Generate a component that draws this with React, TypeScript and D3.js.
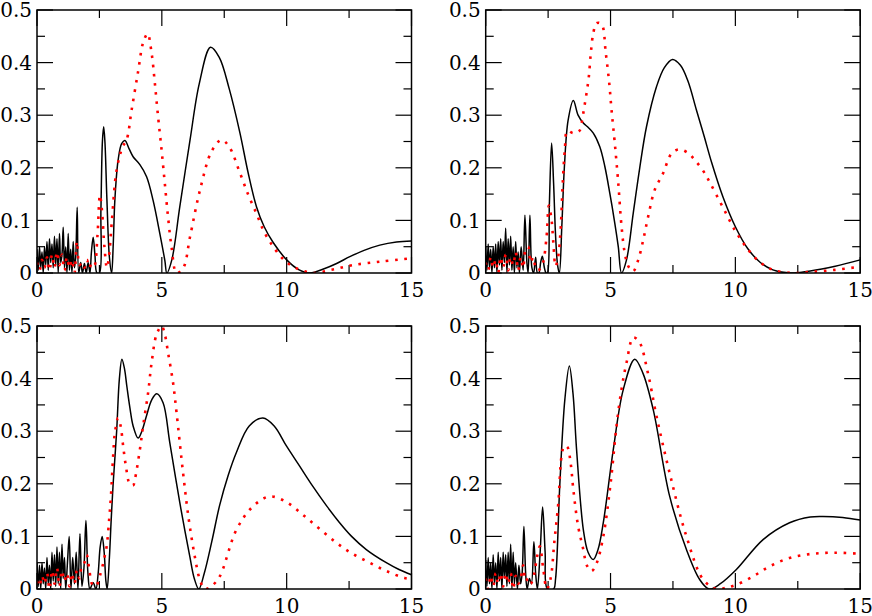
import * as d3 from "d3"

type Pt = [number, number]

// tick values shared by every panel
const xMajor = [0, 5, 10, 15]
const xMinor = [2.5, 7.5, 12.5]
const yMajor = [0, 0.1, 0.2, 0.3, 0.4, 0.5]
const yMinor = [0.05, 0.15, 0.25, 0.35, 0.45]

// top-left panel
const tlBlack: Pt[] = [
  [0, 0.045], [0.05, 0.005], [0.1, 0.05], [0.15, 0.01], [0.2, 0.04], [0.25, 0], [0.3, 0.05], [0.35, 0.015],
  [0.4, 0.06], [0.45, 0.005], [0.5, 0.065], [0.55, 0.02], [0.6, 0.055], [0.65, 0.01], [0.7, 0.07], [0.75, 0.015],
  [0.8, 0.065], [0.85, 0], [0.9, 0.075], [0.95, 0.02], [1.0, 0.035], [1.05, 0.087], [1.1, 0.01], [1.15, 0.05],
  [1.2, 0], [1.25, 0.075], [1.3, 0.005], [1.35, 0.045], [1.4, 0], [1.45, 0.06], [1.5, 0.01], [1.55, 0.03],
  [1.61, 0.125], [1.67, 0], [1.75, 0.02], [1.82, 0], [1.9, 0.018], [1.97, 0], [2.05, 0.02], [2.12, 0],
  [2.18, 0.04], [2.25, 0.068], [2.32, 0.035], [2.4, 0], [2.5, 0], [2.56, 0.12], [2.62, 0.25], [2.67, 0.278],
  [2.72, 0.25], [2.8, 0.14], [2.9, 0.03], [2.99, 0], [3.05, 0.05], [3.12, 0.14], [3.25, 0.215], [3.39, 0.246],
  [3.52, 0.252], [3.7, 0.235], [3.85, 0.221], [4.12, 0.206], [4.39, 0.183], [4.65, 0.138], [4.92, 0.075],
  [5.12, 0.024], [5.2, 0], [5.4, 0.025], [5.72, 0.126], [6.13, 0.253], [6.5, 0.36], [6.95, 0.429], [7.3, 0.41],
  [7.7, 0.35], [8.13, 0.266], [8.45, 0.192], [8.79, 0.126], [9.1, 0.088], [9.46, 0.058], [10.0, 0.025],
  [10.5, 0.006], [10.93, 0], [11.5, 0.008], [12.0, 0.018], [12.53, 0.031], [13.1, 0.043], [13.73, 0.053],
  [14.4, 0.059], [15, 0.061],
]
const tlRed: Pt[] = [
  [0, 0.02], [0.1, 0.005], [0.2, 0.025], [0.3, 0.01], [0.4, 0.03], [0.5, 0.005], [0.6, 0.035], [0.7, 0.01],
  [0.8, 0.04], [0.9, 0.015], [1.0, 0.035], [1.1, 0.005], [1.2, 0.03], [1.3, 0.01], [1.4, 0.025], [1.5, 0],
  [1.6, 0.06], [1.7, 0.015], [1.8, 0.02], [1.9, 0.01], [2.0, 0.025], [2.1, 0.01], [2.2, 0.02], [2.3, 0.015],
  [2.42, 0.07], [2.52, 0.148], [2.6, 0.12], [2.7, 0.05], [2.8, 0.01], [2.88, 0.03], [3.0, 0.1], [3.19, 0.196],
  [3.43, 0.24], [3.59, 0.253], [3.79, 0.31], [4.05, 0.383], [4.25, 0.438], [4.43, 0.455], [4.59, 0.418],
  [4.72, 0.361], [4.85, 0.297], [4.99, 0.234], [5.12, 0.17], [5.25, 0.106], [5.39, 0.049], [5.59, 0],
  [5.86, 0.01], [6.13, 0.069], [6.53, 0.158], [7.0, 0.232], [7.39, 0.253], [7.7, 0.24], [8.13, 0.19],
  [8.45, 0.15], [8.79, 0.113], [9.1, 0.078], [9.46, 0.05], [9.85, 0.027], [10.26, 0.012], [11.05, 0],
  [11.8, 0.006], [12.65, 0.015], [13.8, 0.022], [15, 0.028],
]

// top-right panel
const trBlack: Pt[] = [
  [0, 0.05], [0.05, 0.005], [0.1, 0.055], [0.15, 0.01], [0.2, 0.045], [0.25, 0], [0.3, 0.05], [0.35, 0.01],
  [0.4, 0.055], [0.45, 0], [0.5, 0.06], [0.55, 0.015], [0.6, 0.065], [0.65, 0.005], [0.7, 0.06], [0.75, 0.02],
  [0.8, 0.085], [0.85, 0], [0.9, 0.065], [0.95, 0.015], [1.0, 0.07], [1.05, 0.005], [1.1, 0.05], [1.15, 0],
  [1.2, 0.06], [1.25, 0.01], [1.3, 0.04], [1.35, 0], [1.42, 0.05], [1.5, 0.005], [1.57, 0.11], [1.65, 0.02],
  [1.7, 0], [1.77, 0.11], [1.85, 0.01], [1.92, 0], [2.0, 0.03], [2.07, 0], [2.13, 0], [2.2, 0.02], [2.27, 0.032],
  [2.35, 0.01], [2.42, 0], [2.47, 0], [2.55, 0.13], [2.64, 0.247], [2.72, 0.17], [2.8, 0.07], [2.88, 0.015],
  [2.95, 0], [3.05, 0.09], [3.15, 0.2], [3.3, 0.29], [3.51, 0.328], [3.7, 0.3], [3.91, 0.285], [4.1, 0.277],
  [4.31, 0.266], [4.57, 0.24], [4.77, 0.203], [4.97, 0.152], [5.17, 0.095], [5.31, 0.05], [5.44, 0],
  [5.64, 0.025], [5.91, 0.114], [6.17, 0.2], [6.44, 0.278], [6.84, 0.354], [7.15, 0.39], [7.48, 0.406],
  [7.8, 0.395], [8.1, 0.365], [8.44, 0.31], [8.75, 0.26], [9.05, 0.21], [9.5, 0.145], [10.0, 0.088],
  [10.5, 0.046], [11.0, 0.02], [11.5, 0.006], [12.2, 0], [13.0, 0.004], [14.0, 0.013], [15, 0.025],
]
const trRed: Pt[] = [
  [0, 0.02], [0.1, 0.005], [0.2, 0.03], [0.3, 0.01], [0.4, 0.025], [0.5, 0], [0.6, 0.03], [0.7, 0.01],
  [0.8, 0.035], [0.9, 0.005], [1.0, 0.03], [1.1, 0.015], [1.2, 0.04], [1.3, 0.005], [1.4, 0.03], [1.5, 0.01],
  [1.6, 0.045], [1.7, 0.05], [1.8, 0.02], [1.9, 0.03], [2.0, 0.01], [2.1, 0.005], [2.2, 0.01], [2.3, 0.02],
  [2.44, 0.07], [2.53, 0.128], [2.64, 0.1], [2.71, 0.057], [2.8, 0.013], [2.9, 0.03], [3.0, 0.082],
  [3.08, 0.165], [3.17, 0.234], [3.27, 0.27], [3.51, 0.266], [3.75, 0.27], [3.84, 0.285], [3.93, 0.31],
  [4.04, 0.342], [4.13, 0.373], [4.21, 0.418], [4.31, 0.456], [4.44, 0.475], [4.64, 0.473], [4.81, 0.418],
  [4.95, 0.36], [5.04, 0.31], [5.17, 0.247], [5.31, 0.171], [5.44, 0.089], [5.57, 0.038], [5.71, 0.013],
  [5.9, 0.003], [6.11, 0.025], [6.31, 0.063], [6.51, 0.108], [6.77, 0.158], [7.11, 0.19], [7.44, 0.227],
  [7.75, 0.235], [8.11, 0.228], [8.37, 0.215], [8.7, 0.195], [9.0, 0.17], [9.5, 0.125], [10.0, 0.08],
  [10.5, 0.045], [11.0, 0.02], [11.5, 0.006], [12.3, 0], [13.0, 0.002], [14.0, 0.006], [15, 0.012],
]

// bottom-left panel
const blBlack: Pt[] = [
  [0, 0.05], [0.05, 0.005], [0.1, 0.045], [0.15, 0], [0.2, 0.05], [0.25, 0.01], [0.3, 0.04], [0.35, 0],
  [0.4, 0.06], [0.45, 0.01], [0.5, 0.045], [0.55, 0], [0.6, 0.07], [0.65, 0.015], [0.7, 0.065], [0.75, 0.005],
  [0.8, 0.08], [0.85, 0.01], [0.9, 0.07], [0.95, 0], [1.0, 0.085], [1.05, 0.02], [1.1, 0.06], [1.15, 0],
  [1.22, 0.05], [1.29, 0.1], [1.36, 0], [1.43, 0.06], [1.5, 0.01], [1.57, 0.07], [1.64, 0], [1.72, 0.105],
  [1.8, 0.005], [1.88, 0.04], [1.96, 0.13], [2.04, 0.03], [2.12, 0], [2.25, 0.012], [2.36, 0], [2.45, 0.03],
  [2.53, 0.08], [2.61, 0.1], [2.69, 0.07], [2.76, 0.015], [2.81, 0], [2.9, 0.06], [2.97, 0.13], [3.05, 0.2],
  [3.19, 0.3], [3.3, 0.4], [3.4, 0.437], [3.5, 0.42], [3.6, 0.385], [3.72, 0.345], [3.85, 0.31], [4.05, 0.287],
  [4.2, 0.3], [4.39, 0.33], [4.6, 0.36], [4.8, 0.371], [5.05, 0.354], [5.32, 0.278], [5.72, 0.164],
  [6.12, 0.062], [6.3, 0.02], [6.48, 0], [6.7, 0.03], [7.0, 0.09], [7.32, 0.16], [7.65, 0.215], [7.99, 0.26],
  [8.5, 0.31], [9.05, 0.325], [9.5, 0.31], [9.99, 0.272], [10.5, 0.235], [11.05, 0.195], [11.6, 0.158],
  [12.12, 0.126], [12.6, 0.1], [13.19, 0.075], [13.99, 0.05], [14.5, 0.037], [15, 0.027],
]
const blRed: Pt[] = [
  [0, 0.015], [0.1, 0.005], [0.2, 0.025], [0.3, 0.01], [0.4, 0.03], [0.5, 0], [0.6, 0.035], [0.7, 0.01],
  [0.8, 0.04], [0.9, 0.005], [1.0, 0.035], [1.1, 0.015], [1.2, 0.03], [1.3, 0.005], [1.4, 0.03], [1.5, 0.01],
  [1.6, 0.035], [1.7, 0.02], [1.8, 0.045], [1.9, 0.05], [1.99, 0.065], [2.1, 0.035], [2.2, 0.01], [2.35, 0.005],
  [2.55, 0.03], [2.7, 0.06], [2.79, 0.081], [2.89, 0.132], [2.96, 0.176], [3.05, 0.253], [3.12, 0.297],
  [3.25, 0.325], [3.35, 0.31], [3.45, 0.272], [3.56, 0.234], [3.72, 0.199], [3.85, 0.197], [3.92, 0.208],
  [4.12, 0.265], [4.25, 0.31], [4.45, 0.373], [4.59, 0.43], [4.79, 0.484], [4.99, 0.5], [5.12, 0.484],
  [5.25, 0.449], [5.45, 0.392], [5.59, 0.335], [5.85, 0.221], [6.08, 0.132], [6.32, 0.062], [6.52, 0.018],
  [6.72, 0], [7.0, 0.006], [7.32, 0.024], [7.99, 0.113], [8.65, 0.157], [9.32, 0.176], [10.0, 0.165],
  [10.65, 0.141], [11.3, 0.115], [11.99, 0.088], [12.6, 0.068], [13.32, 0.05], [14.0, 0.034], [14.72, 0.021], [15, 0.019],
]

// bottom-right panel
const brBlack: Pt[] = [
  [0, 0.055], [0.05, 0.005], [0.1, 0.06], [0.15, 0.01], [0.2, 0.05], [0.25, 0], [0.3, 0.065], [0.35, 0.01],
  [0.4, 0.05], [0.45, 0], [0.5, 0.07], [0.55, 0.015], [0.6, 0.06], [0.65, 0], [0.7, 0.07], [0.75, 0.02],
  [0.8, 0.065], [0.85, 0.005], [0.9, 0.07], [0.95, 0.01], [1.0, 0.085], [1.05, 0], [1.1, 0.07], [1.15, 0.01],
  [1.2, 0.05], [1.27, 0], [1.33, 0.045], [1.4, 0.01], [1.46, 0.03], [1.53, 0.119], [1.6, 0.03], [1.66, 0],
  [1.75, 0.02], [1.83, 0.01], [1.93, 0.09], [2.0, 0.03], [2.07, 0], [2.18, 0.07], [2.28, 0.156], [2.38, 0.07],
  [2.47, 0], [2.72, 0], [2.8, 0.02], [2.97, 0.2], [3.17, 0.36], [3.35, 0.424], [3.5, 0.37], [3.64, 0.265],
  [3.91, 0.113], [4.1, 0.07], [4.31, 0.056], [4.5, 0.075], [4.71, 0.126], [5.11, 0.265], [5.51, 0.379],
  [5.97, 0.437], [6.3, 0.41], [6.71, 0.341], [7.37, 0.176], [8.04, 0.075], [8.57, 0.018], [8.95, 0],
  [9.4, 0.01], [10.04, 0.037], [11.11, 0.094], [12.17, 0.126], [13.0, 0.137], [13.51, 0.138], [14.3, 0.136], [15, 0.131],
]
const brRed: Pt[] = [
  [0, 0.02], [0.1, 0], [0.2, 0.025], [0.3, 0.005], [0.4, 0.03], [0.5, 0.01], [0.6, 0.03], [0.7, 0.005],
  [0.8, 0.03], [0.9, 0.01], [1.0, 0.03], [1.1, 0], [1.2, 0.025], [1.3, 0.01], [1.4, 0.02], [1.5, 0.045],
  [1.6, 0.015], [1.7, 0.02], [1.8, 0.01], [1.95, 0.03], [2.05, 0.06], [2.17, 0.081], [2.3, 0.04], [2.45, 0],
  [2.6, 0.02], [2.75, 0.09], [2.91, 0.164], [3.04, 0.253], [3.15, 0.272], [3.27, 0.27], [3.4, 0.24],
  [3.51, 0.189], [3.7, 0.12], [3.91, 0.075], [4.05, 0.045], [4.24, 0.034], [4.45, 0.05], [4.71, 0.1],
  [5.0, 0.2], [5.24, 0.31], [5.44, 0.38], [5.64, 0.43], [5.91, 0.478], [6.15, 0.47], [6.5, 0.41], [6.84, 0.329],
  [7.37, 0.22], [8.04, 0.1], [8.71, 0.018], [9.24, 0], [9.6, 0.002], [10.04, 0.008], [10.71, 0.024],
  [11.37, 0.043], [12.17, 0.059], [13.1, 0.067], [14.04, 0.069], [15, 0.067],
]

const W = 872
const H = 616
const panelW = 374.5
const panelH = 263
const FONT = "DejaVu Serif"

const panels = [
  { x0: 37, y0: 10, black: tlBlack, red: tlRed },
  { x0: 485.7, y0: 10, black: trBlack, red: trRed },
  { x0: 37, y0: 326, black: blBlack, red: blRed },
  { x0: 485.7, y0: 326, black: brBlack, red: brRed },
]

function Panel({ id, x0, y0, black, red }: { id: number; x0: number; y0: number; black: Pt[]; red: Pt[] }) {
  const x = d3.scaleLinear().domain([0, 15]).range([x0, x0 + panelW])
  const y = d3.scaleLinear().domain([0, 0.5]).range([y0 + panelH, y0])
  const line = d3
    .line<Pt>()
    .x((d) => x(d[0]))
    .y((d) => y(d[1]))
    .curve(d3.curveCatmullRom.alpha(0.5))

  const bottom = y(0)
  const top = y(0.5)
  const left = x(0)
  const right = x(15)
  const clipId = `clip-${id}`

  const xTicks = [...xMajor.map((v) => [v, 16]), ...xMinor.map((v) => [v, 8])]
  const yTicks = [...yMajor.map((v) => [v, 16]), ...yMinor.map((v) => [v, 8])]

  return (
    <g>
      <defs>
        <clipPath id={clipId}>
          <rect x={left} y={top - 2} width={right - left} height={bottom - top + 2} />
        </clipPath>
      </defs>

      {/* ticks on all four sides, pointing inward */}
      <g stroke="#000" strokeWidth={1.2}>
        {xTicks.map(([v, len], i) => (
          <g key={"xt" + i}>
            <line x1={x(v)} x2={x(v)} y1={bottom} y2={bottom - len} />
            <line x1={x(v)} x2={x(v)} y1={top} y2={top + len} />
          </g>
        ))}
        {yTicks.map(([v, len], i) => (
          <g key={"yt" + i}>
            <line x1={left} x2={left + len} y1={y(v)} y2={y(v)} />
            <line x1={right} x2={right - len} y1={y(v)} y2={y(v)} />
          </g>
        ))}
      </g>

      <g clipPath={`url(#${clipId})`}>
        <path d={line(black) ?? ""} fill="none" stroke="#000" strokeWidth={1.5} strokeLinejoin="round" />
        <path
          d={line(red) ?? ""}
          fill="none"
          stroke="#ff0000"
          strokeWidth={2.6}
          strokeDasharray="2.6 6.6"
          strokeLinecap="butt"
        />
      </g>

      <rect x={left} y={top} width={right - left} height={bottom - top} fill="none" stroke="#000" strokeWidth={1.5} />

      <g fontFamily={FONT} fontSize={20}>
        {xMajor.map((v) => (
          <text key={"xl" + v} x={x(v)} y={bottom + 24} textAnchor="middle">
            {v}
          </text>
        ))}
        {yMajor.map((v) => (
          <text key={"yl" + v} x={left - 5} y={y(v)} dy="0.36em" textAnchor="end">
            {v === 0 ? "0" : v.toFixed(1)}
          </text>
        ))}
      </g>
    </g>
  )
}

export default function App() {
  return (
    <svg
      width={W}
      height={H}
      viewBox={`0 0 ${W} ${H}`}
      style={{ position: "absolute", left: 0, top: 0, background: "#fff" }}
    >
      <rect width={W} height={H} fill="#fff" />
      {panels.map((p, i) => (
        <Panel key={i} id={i} {...p} />
      ))}
    </svg>
  )
}
